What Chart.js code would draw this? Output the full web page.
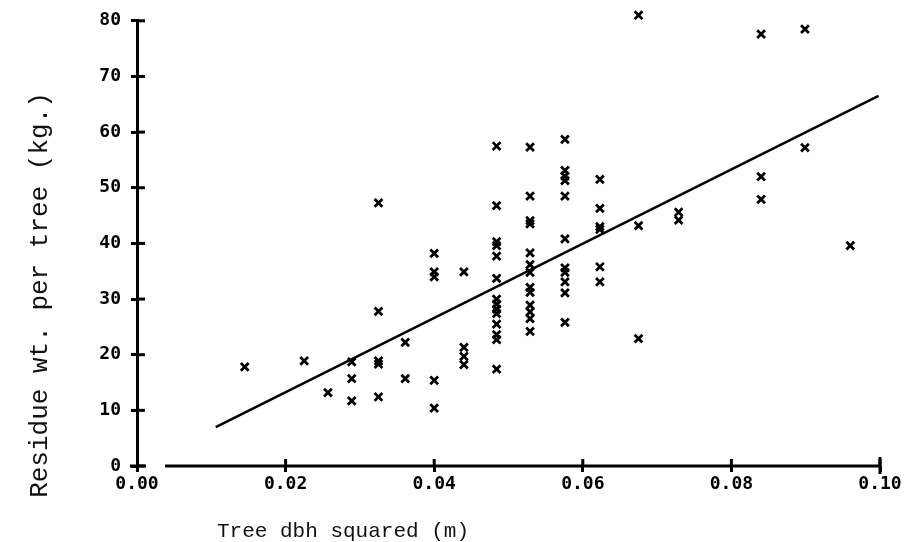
<!DOCTYPE html>
<html>
<head>
<meta charset="utf-8">
<script src="https://cdn.jsdelivr.net/npm/chart.js@4.4.0/dist/chart.umd.min.js"></script>
<style>
  html, body { margin: 0; padding: 0; background: #fff; }
  #wrap { width: 915px; height: 542px; }
</style>
</head>
<body>
<div id="wrap"><canvas id="myChart" width="915" height="542"></canvas></div>
<script>
// tree dbh squared (m) and residue weight (kg) per tree
const dbhSquared = [
  0.0145, 0.0225, 0.0257,
  0.0289, 0.0289, 0.0289,
  0.0325, 0.0325, 0.0325, 0.0325, 0.0325,
  0.0361, 0.0361,
  0.0400, 0.0400, 0.0400, 0.0400, 0.0400,
  0.0440, 0.0440, 0.0440, 0.0440,
  0.0484, 0.0484, 0.0484, 0.0484, 0.0484, 0.0484, 0.0484, 0.0484, 0.0484, 0.0484, 0.0484, 0.0484, 0.0484, 0.0484,
  0.0529, 0.0529, 0.0529, 0.0529, 0.0529, 0.0529, 0.0529, 0.0529, 0.0529, 0.0529, 0.0529, 0.0529, 0.0529,
  0.0576, 0.0576, 0.0576, 0.0576, 0.0576, 0.0576, 0.0576, 0.0576, 0.0576, 0.0576, 0.0576,
  0.0623, 0.0623, 0.0623, 0.0623, 0.0623, 0.0623,
  0.0675, 0.0675, 0.0675,
  0.0729, 0.0729,
  0.0840, 0.0840, 0.0840,
  0.0899, 0.0899,
  0.0960
];
const residueKg = [
  17.8, 18.9, 13.2,
  18.7, 15.7, 11.7,
  47.3, 27.8, 18.9, 18.3, 12.4,
  22.2, 15.7,
  38.2, 34.9, 34.0, 15.4, 10.4,
  34.9, 21.3, 19.7, 18.2,
  57.5, 46.8, 40.3, 39.6, 37.7, 33.7, 30.0, 29.1, 28.2, 27.4, 25.5, 23.6, 22.7, 17.4,
  57.3, 48.5, 44.1, 43.5, 38.3, 36.2, 34.8, 32.1, 31.2, 28.9, 27.7, 26.5, 24.2,
  58.7, 53.1, 52.1, 51.3, 48.5, 40.8, 35.6, 34.8, 33.1, 31.1, 25.8,
  51.5, 46.3, 43.0, 42.5, 35.8, 33.1,
  81.0, 43.2, 22.9,
  45.6, 44.2,
  77.6, 52.0, 47.9,
  78.5, 57.2,
  39.6
];

// fitted regression line, end points
const fitX = [0.0106, 0.0998];
const fitY = [7.0, 66.5];

const xTicks = [0, 0.02, 0.04, 0.06, 0.08, 0.10];
const yTicks = [0, 10, 20, 30, 40, 50, 60, 70, 80];

const xTitle = 'Tree dbh squared (m)';
const yTitle = 'Residue wt. per tree (kg.)';

function myLoadFunction() {
  const ctx = document.getElementById('myChart').getContext('2d');

  // x axis line (starts a bit right of the origin), "+" tick crosses, axis titles
  const axisExtras = {
    id: 'axisExtras',
    afterDraw(chart) {
      const c = chart.ctx;
      const area = chart.chartArea;
      const xs = chart.scales.x, ys = chart.scales.y;
      c.save();
      c.strokeStyle = '#000';
      c.lineWidth = 3;
      c.beginPath(); c.moveTo(area.left + 28, area.bottom); c.lineTo(area.right, area.bottom); c.stroke();
      c.beginPath(); c.moveTo(area.left - 7, area.bottom); c.lineTo(area.left + 9, area.bottom); c.stroke();
      c.beginPath(); c.moveTo(area.right, area.bottom - 9); c.lineTo(area.right, area.bottom + 8); c.stroke();
      ys.ticks.forEach(t => {
        const py = ys.getPixelForValue(t.value);
        c.beginPath(); c.moveTo(area.left, py); c.lineTo(area.left + 8, py); c.stroke();
      });
      xs.ticks.forEach(t => {
        if (t.value === 0) return;
        const px = xs.getPixelForValue(t.value);
        c.beginPath(); c.moveTo(px, area.bottom); c.lineTo(px, area.bottom - 7); c.stroke();
      });
      c.fillStyle = '#111';
      c.textBaseline = 'middle';
      c.textAlign = 'left';
      c.font = '21px "Liberation Mono"';
      c.fillText(xTitle, 217, 531);
      c.translate(40, 295);
      c.rotate(-Math.PI / 2);
      c.textAlign = 'center';
      c.font = '26px "Liberation Mono"';
      c.fillText(yTitle, 0, 0);
      c.restore();
    }
  };

  var myChartConfig = {
    type: 'scatter',
    data: {
      datasets: [{
        label: 'trees',
        data: dbhSquared.map((x, i) => ({ x: x, y: residueKg[i] })),
        pointStyle: 'crossRot',
        pointRadius: 5.5,
        borderColor: '#000',
        borderWidth: 2.8,
        clip: false
      }, {
        type: 'line',
        label: 'fit',
        data: fitX.map((x, i) => ({ x: x, y: fitY[i] })),
        borderColor: '#000',
        borderWidth: 2.5,
        pointRadius: 0,
        fill: false
      }]
    },
    options: {
      animation: false,
      responsive: false,
      layout: { padding: { top: 15, right: 35, left: 0, bottom: 0 } },
      plugins: { legend: { display: false }, tooltip: { enabled: false } },
      scales: {
        x: {
          type: 'linear',
          min: 0, max: 0.10,
          afterBuildTicks: s => { s.ticks = xTicks.map(v => ({ value: v })); },
          afterFit: s => { s.height = 76; },
          ticks: {
            color: '#000',
            padding: 2,
            font: { family: '"DejaVu Sans Mono"', size: 18, weight: 'bold' },
            callback: v => v.toFixed(2)
          },
          grid: { drawOnChartArea: false, color: '#000', lineWidth: 3, tickLength: 6 },
          border: { display: false }
        },
        y: {
          min: 0, max: 80,
          afterBuildTicks: s => { s.ticks = yTicks.map(v => ({ value: v })); },
          afterFit: s => { s.width = 137; },
          ticks: {
            color: '#000',
            padding: 10,
            font: { family: '"DejaVu Sans Mono"', size: 18, weight: 'bold' }
          },
          grid: { drawOnChartArea: false, color: '#000', lineWidth: 3, tickLength: 6 },
          border: { color: '#000', width: 3 }
        }
      }
    },
    plugins: [axisExtras]
  };

  const myChart = new Chart(ctx, myChartConfig);
}

document.addEventListener('DOMContentLoaded', myLoadFunction);
</script>
</body>
</html>
